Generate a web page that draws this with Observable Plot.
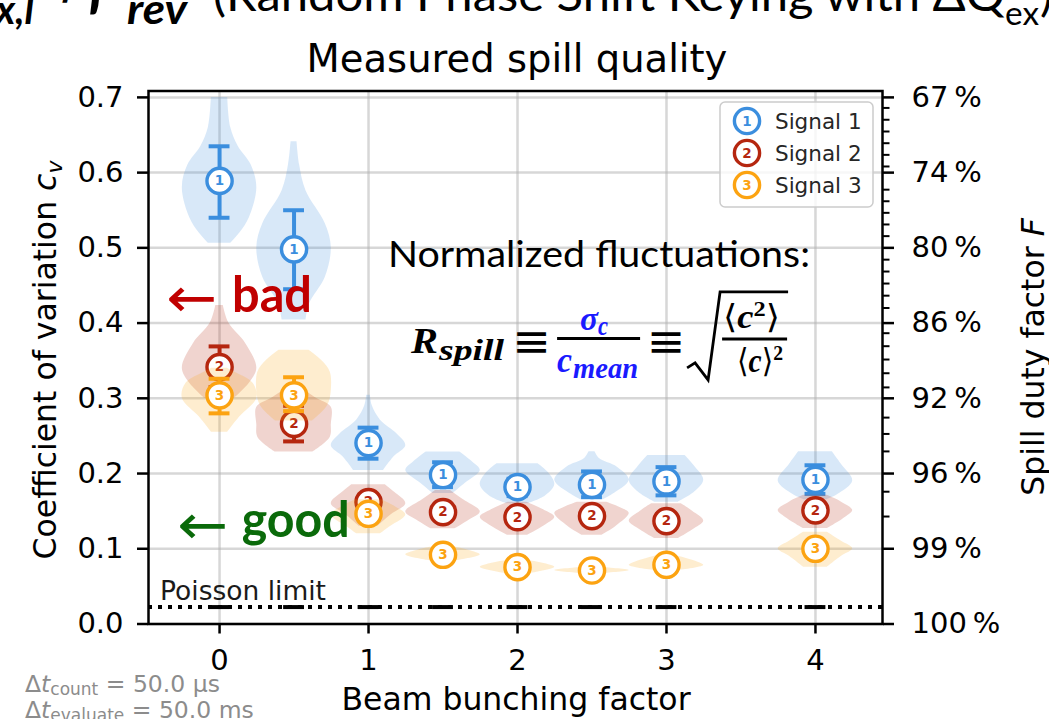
<!DOCTYPE html>
<html><head><meta charset="utf-8">
<script src="https://cdn.jsdelivr.net/npm/d3@7"></script>
<script src="https://cdn.jsdelivr.net/npm/@observablehq/plot@0.6"></script>
<style>
html,body{margin:0;padding:0;background:#fff;overflow:hidden;}
#chart{width:1049px;height:719px;position:relative;overflow:hidden;}
svg{display:block;}
</style></head><body><div id="chart"></div>
<script>
// ---------------- data ----------------
const positions = [0, 0.5, 1, 1.5, 2, 2.5, 3, 4];          // beam bunching factor
const signalNames = ["Signal 1", "Signal 2", "Signal 3"];
const signalColors = ["#3b8ede", "#b5260f", "#fca311"];

const mean1 = [0.589, 0.498, 0.2405, 0.198, 0.182, 0.185, 0.1895, 0.1917];
const lo1   = [0.540, 0.445, 0.2197, 0.182, 0.170, 0.1686, 0.171, 0.173];
const hi1   = [0.635, 0.550, 0.261, 0.215, 0.193, 0.2028, 0.2085, 0.211];

const mean2 = [0.3415, 0.266, 0.162, 0.1487, 0.142, 0.1434, 0.1368, 0.151];
const lo2   = [0.315, 0.2427, 0.152, 0.140, 0.134, 0.135, 0.128, 0.142];
const hi2   = [0.369, 0.290, 0.172, 0.158, 0.151, 0.152, 0.146, 0.160];

const mean3 = [0.304, 0.304, 0.1465, 0.092, 0.0756, 0.0711, 0.0787, 0.100];
const lo3   = [0.280, 0.283, 0.138, 0.086, 0.070, 0.066, 0.073, 0.094];
const hi3   = [0.326, 0.328, 0.156, 0.098, 0.081, 0.076, 0.084, 0.106];

// violin profiles: [cv, relative half width] (1 = full violin width)
const violin1 = [
  [[0.506,0.30],[0.52,0.55],[0.54,0.80],[0.58,1.0],[0.61,0.85],[0.635,0.50],[0.66,0.30],[0.70,0.22]],
  [[0.404,0.32],[0.426,0.42],[0.461,0.84],[0.50,1.0],[0.532,0.84],[0.576,0.32],[0.61,0.15],[0.641,0.08]],
  [[0.204,0.40],[0.222,0.68],[0.237,1.0],[0.253,0.76],[0.271,0.32],[0.29,0.10],[0.304,0.05]],
  [[0.1735,0.27],[0.187,0.60],[0.204,1.0],[0.215,0.80],[0.2285,0.45]],
  [[0.160,0.30],[0.170,0.75],[0.185,1.0],[0.200,0.85],[0.213,0.55]],
  [[0.165,0.30],[0.172,0.55],[0.191,1.0],[0.2085,0.68],[0.220,0.20],[0.229,0.08]],
  [[0.162,0.32],[0.175,0.75],[0.191,1.0],[0.210,0.75],[0.224,0.50]],
  [[0.165,0.30],[0.172,0.60],[0.190,1.0],[0.212,0.70],[0.229,0.45]]
];
const violin2 = [
  [[0.300,0.40],[0.320,0.80],[0.340,1.0],[0.373,0.70],[0.400,0.25],[0.4235,0.10]],
  [[0.2285,0.50],[0.248,0.97],[0.265,1.0],[0.288,1.0],[0.300,0.60],[0.310,0.30]],
  [[0.130,0.25],[0.145,0.60],[0.160,1.0],[0.175,0.70],[0.185,0.45]],
  [[0.1266,0.32],[0.138,0.70],[0.149,1.0],[0.165,0.55],[0.1775,0.20]],
  [[0.118,0.27],[0.130,0.70],[0.142,1.0],[0.152,0.70],[0.162,0.25]],
  [[0.118,0.27],[0.130,0.65],[0.147,1.0],[0.155,0.75],[0.162,0.40]],
  [[0.1137,0.32],[0.125,0.70],[0.137,1.0],[0.150,0.70],[0.160,0.40]],
  [[0.127,0.32],[0.140,0.75],[0.151,1.0],[0.162,0.70],[0.171,0.32]]
];
const violin3 = [
  [[0.255,0.22],[0.275,0.54],[0.300,1.0],[0.320,0.90],[0.335,0.40],[0.340,0.20]],
  [[0.270,0.50],[0.290,0.90],[0.310,1.0],[0.335,0.97],[0.350,0.75],[0.364,0.40]],
  [[0.120,0.32],[0.130,0.60],[0.145,1.0],[0.155,0.75],[0.165,0.35]],
  [[0.084,0.35],[0.092,1.0],[0.102,0.35]],
  [[0.067,0.30],[0.0756,1.0],[0.0845,0.30]],
  [[0.067,0.30],[0.071,1.0],[0.075,0.30]],
  [[0.071,0.30],[0.078,1.0],[0.091,0.25]],
  [[0.0755,0.32],[0.090,0.70],[0.100,1.0],[0.110,0.70],[0.122,0.32]]
];

const xTicks = [0, 1, 2, 3, 4];
const yTicks = [0, 0.1, 0.2, 0.3, 0.4, 0.5, 0.6, 0.7];
const fMajor = [100, 99, 96, 92, 86, 80, 74, 67];     // spill duty factor labels at yTicks
const fMinor = [68,69,70,71,72,73,75,76,77,78,79,81,82,83,84,85,87,88,89,90,91,93,94,95,97,98];
const poissonLimit = 0.0225;
const violinWidth = 0.5;
const capHalf = 0.07;

// ---------------- build ----------------
const signals = [
  {name: signalNames[0], color: signalColors[0], mean: mean1, lo: lo1, hi: hi1, violin: violin1},
  {name: signalNames[1], color: signalColors[1], mean: mean2, lo: lo2, hi: hi2, violin: violin2},
  {name: signalNames[2], color: signalColors[2], mean: mean3, lo: lo3, hi: hi3, violin: violin3}
];

const marks = [
  Plot.ruleX(xTicks, {stroke: "#b0b0b0", strokeOpacity: 0.5, strokeWidth: 2.5}),
  Plot.ruleY(yTicks, {stroke: "#b0b0b0", strokeOpacity: 0.5, strokeWidth: 2.5}),
  Plot.ruleY([poissonLimit], {stroke: "black", strokeWidth: 4, strokeDasharray: "4,6"}),
  Plot.ruleY(positions, {y: () => poissonLimit, x1: d => d - capHalf, x2: d => d + capHalf, stroke: "black", strokeWidth: 4})
];

signals.forEach((s, si) => {
  const vrows = s.violin.flatMap((prof, i) => prof.map(([cv, rel]) => ({key: i, pos: positions[i], cv, w: rel * violinWidth / 2})));
  const rows = positions.map((p, i) => ({pos: p, mean: s.mean[i], lo: s.lo[i], hi: s.hi[i]}));
  marks.push(Plot.areaX(vrows, {y: "cv", x1: d => d.pos - d.w, x2: d => d.pos + d.w, z: "key", fill: s.color, fillOpacity: 0.2, curve: "catmull-rom"}));
  marks.push(Plot.ruleX(rows, {x: "pos", y1: "lo", y2: "hi", stroke: s.color, strokeWidth: 4}));
  marks.push(Plot.ruleY(rows, {y: "lo", x1: d => d.pos - capHalf, x2: d => d.pos + capHalf, stroke: s.color, strokeWidth: 4}));
  marks.push(Plot.ruleY(rows, {y: "hi", x1: d => d.pos - capHalf, x2: d => d.pos + capHalf, stroke: s.color, strokeWidth: 4}));
  marks.push(Plot.dot(rows, {x: "pos", y: "mean", r: 12.6, fill: "white", stroke: s.color, strokeWidth: 3.4}));
  marks.push(Plot.text(rows, {x: "pos", y: "mean", text: () => String(si + 1), fill: s.color, fontSize: 13.5, fontWeight: "bold", fontFamily: "DejaVu Sans"}));
});

const fLabel = new Map(yTicks.map((v, i) => [v, fMajor[i]]));
const minorCv = fMinor.map(f => Math.sqrt(100 / f - 1));

marks.push(
  Plot.axisX(xTicks, {anchor: "bottom", tickSize: 10, tickPadding: 15, fontSize: 29, strokeWidth: 2.5, label: null, tickFormat: d => String(d)}),
  Plot.axisY(yTicks, {anchor: "left", tickSize: 11, tickPadding: 14, fontSize: 29, strokeWidth: 2.5, label: null, tickFormat: d3.format(".1f")}),
  Plot.axisY(yTicks, {anchor: "right", tickSize: 11, tickPadding: 18, fontSize: 29, strokeWidth: 2.5, label: null, tickFormat: d => fLabel.get(d) + "\u2009%"}),
  Plot.axisY(minorCv, {anchor: "right", tickSize: 6.5, strokeWidth: 2, label: null, tickFormat: () => ""}),
  Plot.frame({stroke: "black", strokeWidth: 2.5})
);

const plot = Plot.plot({
  width: 1049, height: 719,
  marginLeft: 148, marginRight: 167, marginTop: 90.5, marginBottom: 95.5,
  x: {domain: [-0.477, 4.45]},
  y: {domain: [0, 0.7085]},
  style: {fontFamily: "DejaVu Sans", background: "white", color: "black"},
  marks
});
document.getElementById("chart").appendChild(plot);

// ---------------- annotations ----------------
const svg = d3.select(plot);
const xs = v => plot.scale("x").apply(v);
const ys = v => plot.scale("y").apply(v);
function T(x, y, str, o = {}) {
  const t = svg.append("text").attr("x", x).attr("y", y)
    .attr("font-size", o.size || 29).attr("font-family", o.family || "DejaVu Sans")
    .attr("fill", o.fill || "black").attr("text-anchor", o.anchor || "start");
  if (o.weight) t.attr("font-weight", o.weight);
  if (o.style) t.attr("font-style", o.style);
  if (o.len) t.attr("textLength", o.len).attr("lengthAdjust", "spacingAndGlyphs");
  if (str != null) t.text(str);
  return t;
}

// clipped slide header at the very top
const hb = {family: "Lato", weight: "bold", style: "italic"};
T(-4, 24, "x,l", {...hb, size: 40, len: 38});
T(48, 2, "\u2217", {...hb, size: 40});
T(88, 8, "f", {...hb, size: 58});
T(127, 24, "rev", {...hb, size: 42, len: 60});
T(213, 11, "(Random Phase Shift Keying with \u0394Q", {family: "Lato", size: 47, len: 792});
T(1005, 25, "ex", {family: "Lato", size: 32, len: 34});
T(1040, 11, ")", {family: "Lato", size: 47});

// title
T(517, 72, "Measured spill quality", {size: 38.5, anchor: "middle"});

// axis labels
const yl = svg.append("text").attr("transform", "translate(56,360) rotate(-90)")
  .attr("text-anchor", "middle").attr("font-size", 31.5).attr("font-family", "DejaVu Sans");
yl.append("tspan").text("Coefficient of variation ");
yl.append("tspan").attr("font-style", "italic").text("c");
yl.append("tspan").attr("font-style", "italic").attr("font-size", 22).attr("dy", 6).text("v");

const yr = svg.append("text").attr("transform", "translate(1044,357) rotate(-90)")
  .attr("text-anchor", "middle").attr("font-size", 31.5).attr("font-family", "DejaVu Sans");
yr.append("tspan").text("Spill duty factor ");
yr.append("tspan").attr("font-style", "italic").text("F");

T(516, 710, "Beam bunching factor", {size: 31.5, anchor: "middle"});

// timing info (bottom left)
const g1 = T(25, 692, null, {size: 23.5, fill: "#8c8c8c"});
g1.append("tspan").text("\u0394");
g1.append("tspan").attr("font-style", "italic").text("t");
g1.append("tspan").attr("font-size", 17).attr("dy", 3).text("count");
g1.append("tspan").attr("dy", -3).text(" = 50.0 \u03bcs");
const g2 = T(25, 718, null, {size: 23.5, fill: "#8c8c8c"});
g2.append("tspan").text("\u0394");
g2.append("tspan").attr("font-style", "italic").text("t");
g2.append("tspan").attr("font-size", 17).attr("dy", 3).text("evaluate");
g2.append("tspan").attr("dy", -3).text(" = 50.0 ms");

// Poisson limit label
T(xs(-0.396), ys(0.0312), "Poisson limit", {size: 26.5, fill: "#1a1a1a"});

// bad / good
T(xs(-0.356), ys(0.433) + 19, "\u2190", {size: 56, fill: "#c00000", len: 51});
T(xs(0.087), ys(0.4146), "bad", {family: "Lato", weight: "bold", size: 50, fill: "#c00000", len: 80});
T(xs(-0.282), ys(0.131) + 19, "\u2190", {size: 56, fill: "#0a6a0a", len: 51});
T(xs(0.152), ys(0.1154), "good", {family: "Lato", weight: "bold", size: 50, fill: "#0a6a0a", len: 108});

// normalized fluctuations + formula
T(xs(1.134), ys(0.4745), "Normalized fluctuations:", {family: "Lato", size: 37, len: 422});
const Rx = xs(1.289), Ry = ys(0.3597);
const fm = {family: "Liberation Serif", weight: "bold", style: "italic"};
const blue = "#1a1aff";
T(Rx, Ry, "R", {...fm, size: 36, len: 27});
T(Rx + 28, Ry + 7, "spill", {...fm, size: 29, len: 65});
T(Rx + 120.5, Ry + 4, "\u2261", {size: 46, family: "DejaVu Sans", anchor: "middle"});
svg.append("line").attr("x1", Rx + 146).attr("x2", Rx + 229).attr("y1", Ry - 14.5).attr("y2", Ry - 14.5).attr("stroke", "black").attr("stroke-width", 3);
T(Rx + 169, Ry - 23, "\u03c3", {...fm, size: 34, fill: blue, len: 18});
T(Rx + 187, Ry - 18, "c", {...fm, size: 27, fill: blue, len: 10});
T(Rx + 146, Ry + 19, "c", {...fm, size: 36, fill: blue, len: 15});
T(Rx + 162, Ry + 25, "mean", {...fm, size: 29, fill: blue, len: 65});
T(Rx + 255, Ry + 4, "\u2261", {size: 46, family: "DejaVu Sans", anchor: "middle"});
svg.append("path").attr("d", `M${Rx+276},${Ry+15} L${Rx+284},${Ry+10} L${Rx+297},${Ry+27} L${Rx+309},${Ry-61} L${Rx+377},${Ry-61}`)
  .attr("fill", "none").attr("stroke", "black").attr("stroke-width", 2.8);
svg.append("line").attr("x1", Rx + 311).attr("x2", Rx + 376).attr("y1", Ry - 14).attr("y2", Ry - 14).attr("stroke", "black").attr("stroke-width", 3);
const num = T(Rx + 312, Ry - 25, null, {...fm, size: 33, len: 57});
num.append("tspan").attr("font-style", "normal").attr("font-weight", "normal").attr("font-family", "DejaVu Sans").text("\u27e8");
num.append("tspan").text("c");
num.append("tspan").attr("font-size", 22).attr("dy", -12).attr("font-style", "normal").text("2");
num.append("tspan").attr("dy", 12).attr("font-style", "normal").attr("font-weight", "normal").attr("font-family", "DejaVu Sans").text("\u27e9");
const den = T(Rx + 326, Ry + 19, null, {...fm, size: 33, len: 46});
den.append("tspan").attr("font-style", "normal").attr("font-weight", "normal").attr("font-family", "DejaVu Sans").text("\u27e8");
den.append("tspan").text("c");
den.append("tspan").attr("font-style", "normal").attr("font-weight", "normal").attr("font-family", "DejaVu Sans").text("\u27e9");
den.append("tspan").attr("font-size", 22).attr("dy", -12).attr("font-style", "normal").text("2");

// legend
const L = svg.append("g").attr("text-anchor", "start");
L.append("rect").attr("x", 720).attr("y", 102).attr("width", 153).attr("height", 105).attr("rx", 5)
  .attr("fill", "white").attr("fill-opacity", 0.8).attr("stroke", "#cccccc").attr("stroke-width", 1.5);
signals.forEach((s, i) => {
  const cy = 121 + i * 32;
  L.append("circle").attr("cx", 747).attr("cy", cy).attr("r", 12.6).attr("fill", "white").attr("stroke", s.color).attr("stroke-width", 3.4);
  L.append("text").attr("x", 747).attr("y", cy + 4.7).attr("text-anchor", "middle").attr("font-size", 13.5)
    .attr("font-weight", "bold").attr("fill", s.color).attr("font-family", "DejaVu Sans").text(String(i + 1));
  L.append("text").attr("x", 775).attr("y", cy + 7.8).attr("text-anchor", "start").attr("font-size", 21.5).attr("fill", "#262626")
    .attr("font-family", "DejaVu Sans").text(s.name);
});
</script></body></html>
